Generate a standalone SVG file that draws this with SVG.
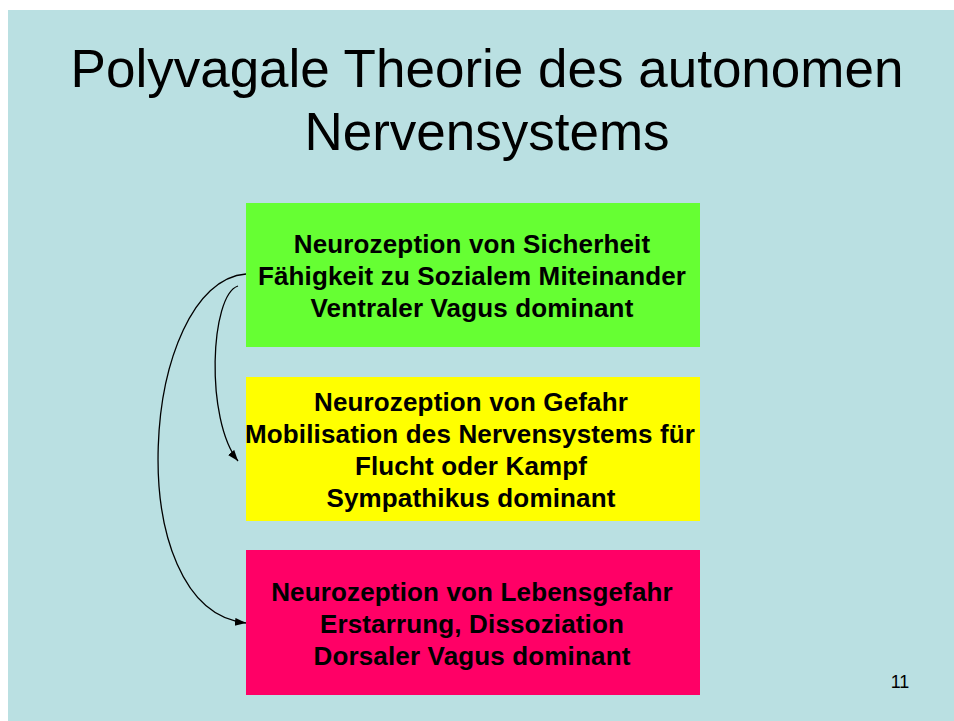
<svg xmlns="http://www.w3.org/2000/svg" width="954" height="721" viewBox="0 0 954 721">
  <style>
    .title { font-family: "Liberation Sans", Arial, sans-serif; font-size: 53px; fill: #000; text-anchor: middle; }
    .box text { font-family: "Liberation Sans", Arial, sans-serif; font-size: 26px; font-weight: bold; fill: #000; text-anchor: middle; letter-spacing: 0.15px; }
    .conn { fill: none; stroke: #000; stroke-width: 1.3; marker-end: url(#arrow); }
    .pg { font-family: "Liberation Sans", Arial, sans-serif; font-size: 18px; fill: #000; text-anchor: middle; }
  </style>
  <defs>
    <marker id="arrow" markerUnits="userSpaceOnUse" markerWidth="12" markerHeight="10" refX="11" refY="4" orient="auto">
      <path d="M0,0 L11,4 L0,8 Z" fill="#000"/>
    </marker>
  </defs>
  <rect x="0" y="0" width="954" height="721" fill="#ffffff"/>
  <rect x="8" y="10" width="946" height="711" fill="#bae0e2"/>
  <g id="title">
    <text class="title" x="487" y="87">Polyvagale Theorie des autonomen</text>
    <text class="title" x="487" y="150">Nervensystems</text>
  </g>
  <g id="box-sicherheit" class="box">
    <rect x="246" y="203" width="454" height="144" fill="#66ff33"/>
    <text x="472" y="253">Neurozeption von Sicherheit</text>
    <text x="472" y="285">Fähigkeit zu Sozialem Miteinander</text>
    <text x="472" y="317">Ventraler Vagus dominant</text>
  </g>
  <g id="box-gefahr" class="box">
    <rect x="246" y="377" width="454" height="144" fill="#ffff00"/>
    <text x="471" y="411">Neurozeption von Gefahr</text>
    <text x="470" y="443">Mobilisation des Nervensystems für</text>
    <text x="471" y="475">Flucht oder Kampf</text>
    <text x="471" y="507">Sympathikus dominant</text>
  </g>
  <g id="box-lebensgefahr" class="box">
    <rect x="246" y="550" width="454" height="145" fill="#ff0066"/>
    <text x="472" y="601">Neurozeption von Lebensgefahr</text>
    <text x="472" y="633">Erstarrung, Dissoziation</text>
    <text x="472" y="665">Dorsaler Vagus dominant</text>
  </g>
  <g id="connectors">
    <path class="conn" d="M246,274 C140,282 118,610 246,623"/>
    <path class="conn" d="M238,286 C210,295 205,420 238,461"/>
  </g>
  <g id="page-number">
    <text class="pg" x="900" y="688">11</text>
  </g>
</svg>
